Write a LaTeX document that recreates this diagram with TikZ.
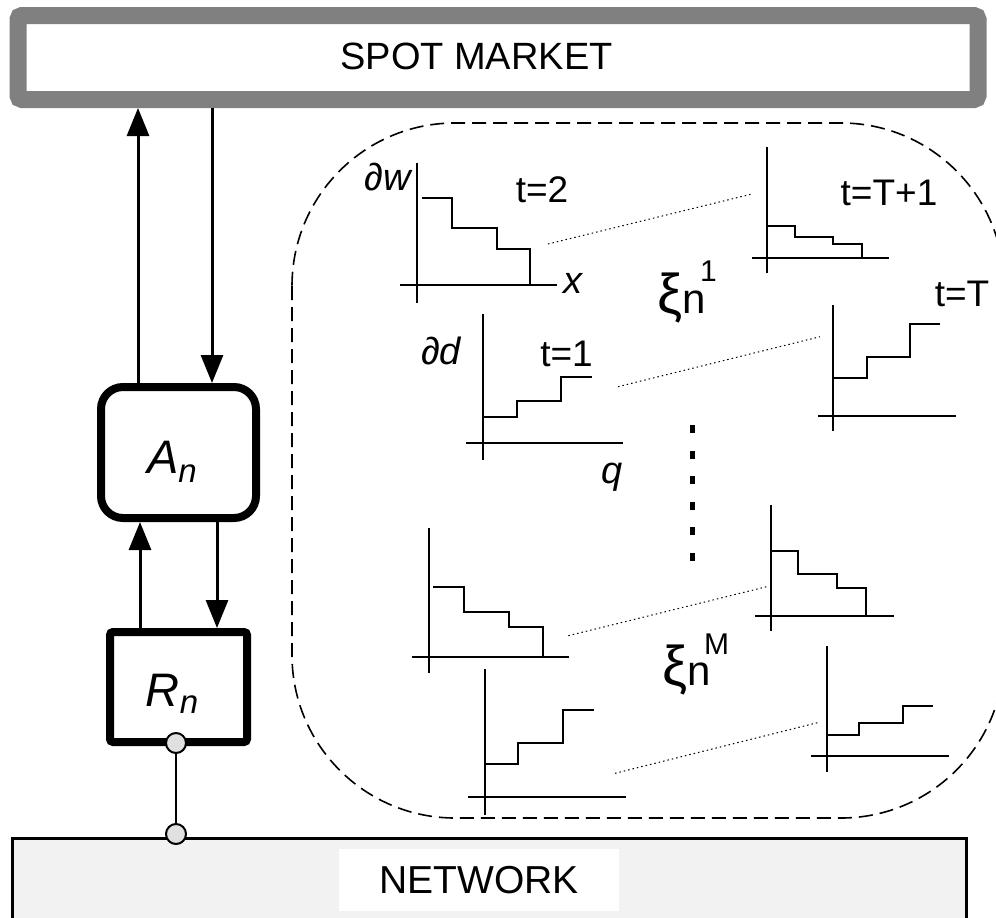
\documentclass[tikz,border=0pt]{standalone}
\usepackage{fontspec}
\setmainfont{Liberation Sans}
\usetikzlibrary{arrows.meta}
\newcommand\setfs[1]{\fontsize{#1}{#1}\selectfont}
\definecolor{smgray}{HTML}{808080}
\definecolor{portgray}{HTML}{E0E0E0}
\definecolor{netgray}{HTML}{F2F2F2}
\begin{document}
\begin{tikzpicture}[x=1pt,y=-1pt,
  flow/.style={line width=3pt,-{Triangle[length=28pt,width=22pt]}},
  axis/.style={line width=2.2pt},
  stair/.style={line width=2pt},
  link/.style={line width=1pt,dash pattern=on 1.5pt off 3pt},
  lab/.style={inner sep=0pt,anchor=base},
  port/.style={circle,draw,line width=2pt,fill=portgray,minimum size=20pt,inner sep=0pt}]
\useasboundingbox (0,0) rectangle (996,918);

% spot market bar
\node[draw=smgray,line width=17pt,fill=white,rounded corners=4pt,
      minimum width=960pt,minimum height=84pt,inner sep=0pt] (sm) at (498,57.5) {};
\node[lab] (smtext) at (476.5,69) {\setfs{38}SPOT MARKET};

% agent and retailer blocks
\node[draw,line width=8pt,rounded corners=22pt,minimum width=155pt,
      minimum height=131pt,inner sep=0pt] (A) at (178.5,452.5) {};
\node[lab] (Atext) at (172,473) {\setfs{47}\itshape A\raisebox{-9pt}{\setfs{33}n}};
\node[draw,line width=8pt,rounded corners=3pt,minimum width=137pt,
      minimum height=110pt,inner sep=0pt] (R) at (178.5,687) {};
\node[lab] (Rtext) at (172,706) {\setfs{47}\itshape R\raisebox{-7pt}{\setfs{33}n}};

% columns of the vertical flows
\coordinate (cUpA) at (138,0);
\coordinate (cDnA) at (212,0);
\coordinate (cUpR) at (140,0);
\coordinate (cDnR) at (217,0);
\draw[flow] (A.north -| cUpA) -- (sm.south -| cUpA);
\draw[flow] (sm.south -| cDnA) -- (A.north -| cDnA);
\draw[flow] (R.north -| cUpR) -- (A.south -| cUpR);
\draw[flow] (A.south -| cDnR) -- (R.north -| cDnR);

% network
\node[draw,line width=3pt,fill=netgray,minimum width=954pt,minimum height=120pt,
      inner sep=0pt] (net) at (489,898) {};
\node[fill=white,minimum width=280pt,minimum height=62pt,inner sep=0pt]
      (nettext) at (479,880) {\setfs{39}NETWORK};
\node[port] (p1) at (176,743) {};
\node[port] (p2) at (176,834) {};
\draw[line width=2.5pt] (p1) -- (p2);

% scenario region
\draw[line width=1.6pt,dash pattern=on 14pt off 7pt,rounded corners=163pt]
  (292,123) rectangle (1004,818);

% bid curves, scenario 1
\draw[axis] (416.7,163) -- (416.7,303) (400,285) -- (557,285);
\draw[stair] (421.7,198.3) -| (452.3,228.3) -| (497.3,249) -| (530,285);
\draw[axis] (766.7,147) -- (766.7,273) (752,257.7) -- (889,257.7);
\draw[stair] (767.7,225.7) -| (795,236.7) -| (833.3,243.7) -| (862.3,257.7);
\draw[axis] (482.7,314) -- (482.7,460) (466,443) -- (623,443);
\draw[stair] (482.7,417.3) -| (516.7,400.7) -| (560.7,376.7) -- (591.7,376.7);
\draw[axis] (832.7,305) -- (832.7,430.7) (818,415.7) -- (956,415.7);
\draw[stair] (832.7,377.7) -| (866.7,356.7) -| (910,324.3) -- (940,324.3);
\draw[link] (548,244) -- (752,194);
\draw[link] (618,386.7) -- (820,336.7);

% bid curves, scenario M
\draw[axis] (429,528.3) -- (429,673.3) (412.3,656.7) -- (569.3,656.7);
\draw[stair] (433.3,587.3) -| (464,612) -| (509,627) -| (543.3,656.7);
\draw[axis] (771,505) -- (771,631) (755,615.7) -- (894,615.7);
\draw[stair] (771,551) -| (798.3,573.7) -| (837.3,587.7) -| (866,615.7);
\draw[axis] (484.7,669.3) -- (484.7,815) (468.3,796.7) -- (626,796.7);
\draw[stair] (484.7,764) -| (518.3,742.7) -| (563.3,710) -- (594.3,710);
\draw[axis] (826.7,646) -- (826.7,772.3) (811.3,756) -- (949.3,756);
\draw[stair] (826.7,735) -| (859,723.3) -| (903.3,706) -- (933.3,706);
\draw[link] (568.3,635.7) -- (766.7,586.7);
\draw[link] (615,773.3) -- (819,722.3);

% ellipsis between scenarios
\draw[line width=5pt,dash pattern=on 8pt off 17.5pt] (692,425) -- (692,563);

% axis and period labels
\node[lab] (lw) at (388,190) {\setfs{38}\itshape ∂w};
\node[lab] (lt2) at (542,202.7) {\setfs{37}t=2};
\node[lab] (lx) at (573,293) {\setfs{38}\itshape x};
\node[lab] (ld) at (441,364) {\setfs{38}\itshape ∂d};
\node[lab] (lt1) at (566.5,366.7) {\setfs{37}t=1};
\node[lab] (lq) at (612,483) {\setfs{38}\itshape q};
\node[lab] (ltT1) at (889,205) {\setfs{37}t=T+1};
\node[lab] (ltT) at (962,306.7) {\setfs{37}t=T};
\node[lab,anchor=base west] (xi1) at (657,313.3) {\setfs{56}ξ\setfs{42}n};
\node[lab,anchor=base west] (s1) at (700,281) {\setfs{30}1};
\node[lab,anchor=base west] (xiM) at (662,685) {\setfs{56}ξ\setfs{42}n};
\node[lab,anchor=base west] (sM) at (704,654) {\setfs{30}M};
\end{tikzpicture}
\end{document}
